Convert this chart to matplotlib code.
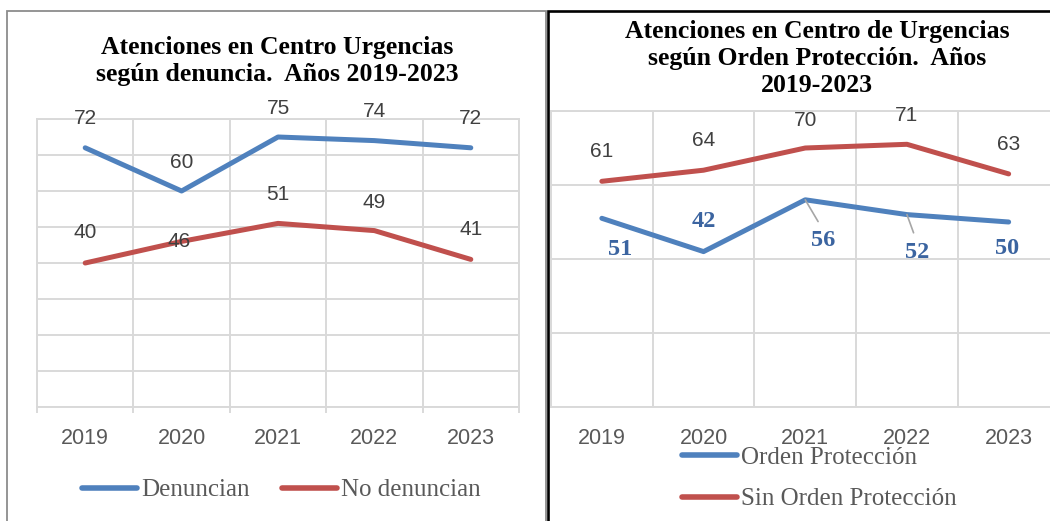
import matplotlib
matplotlib.use('Agg')
import matplotlib.pyplot as plt
from matplotlib.lines import Line2D
from matplotlib.patches import Rectangle

# ---- data ----
years = ['2019', '2020', '2021', '2022', '2023']
denuncian = [72, 60, 75, 74, 72]
no_denuncian = [40, 46, 51, 49, 41]
orden_proteccion = [51, 42, 56, 52, 50]
sin_orden_proteccion = [61, 64, 70, 71, 63]

title_left = 'Atenciones en Centro Urgencias\nsegún denuncia.  Años 2019-2023'
title_right = 'Atenciones en Centro de Urgencias\nsegún Orden Protección.  Años\n2019-2023'

# ---- style ----
BLUE = '#4F81BD'
RED = '#C0504D'
GRID = '#D9D9D9'
LBL = '#404040'
TXT = '#595959'
BLUE_TXT = '#3B64A0'
SERIF = 'Liberation Serif'
SANS = 'Liberation Sans'

W, H = 1050, 521
fig = plt.figure(figsize=(W / 100, H / 100), dpi=100)
fig.patch.set_facecolor('white')


def fx(px):
    return px / W


def fy(py):
    return 1 - py / H


# frames
fig.patches.append(Rectangle((fx(7), fy(540)), fx(546) - fx(7), fy(10.5) - fy(540),
                             transform=fig.transFigure, fill=False,
                             edgecolor='#8C8C8C', lw=1.3, zorder=0))
fig.patches.append(Rectangle((fx(548), fy(540)), fx(1080) - fx(548), fy(10.5) - fy(540),
                             transform=fig.transFigure, fill=False,
                             edgecolor='black', lw=1.9, zorder=5))


def setup(ax, ymax, ystep, ticks_out):
    n = len(years)
    ax.set_xlim(-0.5, n - 0.5)
    ax.set_ylim(0, ymax)
    ax.set_xticks(range(n))
    ax.set_xticklabels(years, fontfamily=SANS)
    ax.set_xticks([i - 0.5 for i in range(n + 1)], minor=True)
    ax.set_yticks(range(0, ymax + 1, ystep))
    ax.set_yticklabels([])
    ax.grid(True, which='minor', axis='x', color=GRID, lw=1.4)
    ax.grid(True, which='major', axis='y', color=GRID, lw=1.4)
    ax.grid(False, which='major', axis='x')
    ax.tick_params(axis='x', which='major', length=0, pad=15, labelsize=15.5, labelcolor=TXT)
    ax.tick_params(axis='x', which='minor', length=4.5 if ticks_out else 0,
                   color=GRID, width=1.4, direction='out')
    ax.tick_params(axis='y', length=0)
    for s in ax.spines.values():
        s.set_color(GRID)
        s.set_linewidth(1.4)
    ax.set_axisbelow(True)
    ax.set_facecolor('none')


def draw_labels(ax, vals, offs, leaders=None, **kw):
    for i, (v, (dx, dy)) in enumerate(zip(vals, offs)):
        if leaders and leaders[i]:
            ax.annotate(str(v), (i, v), xytext=(dx, dy), textcoords='offset pixels',
                        ha='center', va='center',
                        arrowprops=dict(arrowstyle='-', color='#A6A6A6', lw=1.2,
                                        relpos=(0.5, 1.0), shrinkA=5, shrinkB=0),
                        **kw)
        else:
            ax.annotate(str(v), (i, v), xytext=(dx, dy), textcoords='offset pixels',
                        ha='center', va='center', **kw)


x = list(range(len(years)))

# ---- left chart ----
axL = fig.add_axes([fx(37), fy(407), fx(519) - fx(37), fy(119) - fy(407)])
setup(axL, 80, 10, True)
axL.plot(x, denuncian, color=BLUE, lw=3.6, solid_capstyle='round', solid_joinstyle='round')
axL.plot(x, no_denuncian, color=RED, lw=3.6, solid_capstyle='round', solid_joinstyle='round')
lab_kw = dict(fontsize=15, color=LBL, fontfamily=SANS)
draw_labels(axL, denuncian, [(0, 29), (0, 29), (0, 29), (0, 29), (0, 29)], **lab_kw)
draw_labels(axL, no_denuncian, [(0, 30), (-2, 0), (0, 29), (0, 28), (0, 30)], **lab_kw)

fig.text(fx(277), fy(61), title_left, ha='center', va='center', fontsize=18.5,
         fontweight='bold', fontfamily=SERIF, linespacing=1.2, color='black')

h_blue = Line2D([], [], color=BLUE, lw=4, solid_capstyle='round')
h_red = Line2D([], [], color=RED, lw=4, solid_capstyle='round')
fig.legend(handles=[h_blue, h_red], labels=['Denuncian', 'No denuncian'],
           loc='center', bbox_to_anchor=(fx(281.5), fy(490)), ncol=2, frameon=False,
           prop={'family': SERIF, 'size': 18}, handlelength=2.2, handletextpad=0.16,
           columnspacing=1.28, borderpad=0, borderaxespad=0, labelcolor=TXT)

# ---- right chart ----
axR = fig.add_axes([fx(551), fy(407), fx(1059.5) - fx(551), fy(111) - fy(407)])
setup(axR, 80, 20, False)
axR.plot(x, orden_proteccion, color=BLUE, lw=3.6, solid_capstyle='round', solid_joinstyle='round')
axR.plot(x, sin_orden_proteccion, color=RED, lw=3.6, solid_capstyle='round', solid_joinstyle='round')
draw_labels(axR, sin_orden_proteccion, [(0, 30), (0, 30), (0, 28), (0, 29), (0, 29)], **lab_kw)
draw_labels(axR, orden_proteccion, [(18, -31), (0, 30), (18, -41), (10, -38), (-2, -26)],
            leaders=[False, False, True, True, False],
            fontsize=17.5, color=BLUE_TXT, fontfamily=SERIF, fontweight='bold')

fig.text(fx(817), fy(58.5), title_right, ha='center', va='center', fontsize=18.5,
         fontweight='bold', fontfamily=SERIF, linespacing=1.22, color='black')

fig.legend(handles=[h_blue, h_red], labels=['Orden Protección', 'Sin Orden Protección'],
           loc='center left', bbox_to_anchor=(fx(682), fy(478.5)), ncol=1, frameon=False,
           prop={'family': SERIF, 'size': 18}, handlelength=2.2, handletextpad=0.16,
           labelspacing=0.75, borderpad=0, borderaxespad=0, labelcolor=TXT)

fig.savefig('out.png', dpi=100, facecolor='white')
